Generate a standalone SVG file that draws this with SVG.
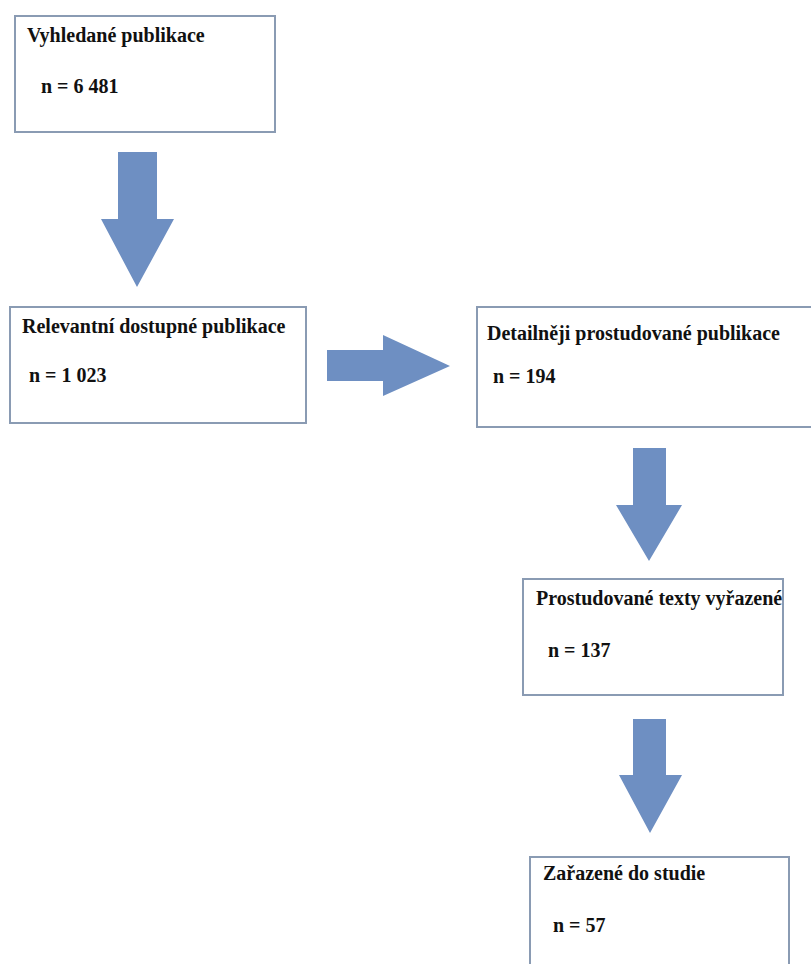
<svg xmlns="http://www.w3.org/2000/svg" width="811" height="964" viewBox="0 0 811 964">
<style>
.box{fill:#fff;stroke:#8a9bb3;stroke-width:2}
.arr{fill:#6e8fc2}
text{font-family:"Liberation Serif","Times New Roman",serif;font-weight:bold;font-size:20px;fill:#111}
</style>
<rect width="811" height="964" fill="#fff"/>
<g id="connectors">
<polygon class="arr" points="118,152 157,152 157,219 174,219 137,287 101,219 118,219"/>
<polygon class="arr" points="327,350 383,350 383,335 450,366 383,396 383,381 327,381"/>
<polygon class="arr" points="633,448 666,448 666,505 682,505 649,561 616,505 633,505"/>
<polygon class="arr" points="633,719 666,719 666,775 682,775 650,833 619,775 633,775"/>
</g>
<g id="n1"><rect class="box" x="15" y="16" width="260" height="116"/><text x="27" y="42">Vyhledané publikace</text><text x="41" y="93">n = 6 481</text></g>
<g id="n2"><rect class="box" x="10" y="307" width="296" height="116"/><text x="22" y="333">Relevantní dostupné publikace</text><text x="29" y="382">n =  1 023</text></g>
<g id="n3"><rect class="box" x="477" y="307" width="340" height="120"/><text x="487" y="340">Detailněji prostudované publikace</text><text x="493" y="383">n = 194</text></g>
<g id="n4"><rect class="box" x="523" y="579" width="260" height="116"/><text x="536" y="605">Prostudované texty vyřazené</text><text x="548" y="657">n = 137</text></g>
<g id="n5"><rect class="box" x="530" y="857" width="259" height="120"/><text x="543" y="880">Zařazené do studie</text><text x="553" y="932">n = 57</text></g>
</svg>
